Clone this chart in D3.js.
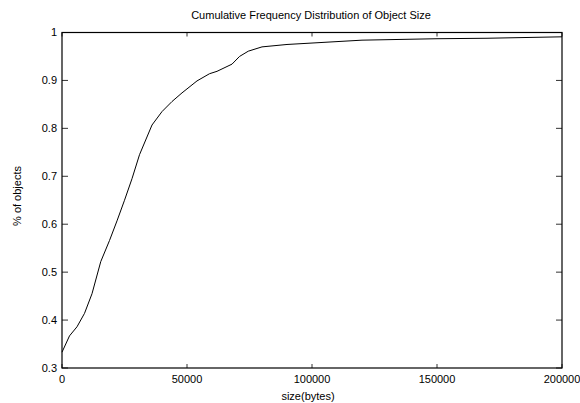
<!DOCTYPE html>
<html>
<head>
<meta charset="utf-8">
<script src="https://cdn.jsdelivr.net/npm/d3@7"></script>
<style>
  html, body { margin: 0; padding: 0; background: #fff; }
  svg { display: block; }
  text { font-family: "Liberation Sans", Arial, Helvetica, sans-serif; fill: #000; }
</style>
</head>
<body>
<svg id="chart" width="580" height="403"></svg>
<script>
// ---- data ----
const sizes = [0, 3000, 6000, 9000, 12000, 15500, 19000, 22000, 25000, 28000, 31000, 36000, 40000, 44000, 48000, 54000, 59000, 62000, 68000, 71000, 74500, 80000, 90000, 100000, 110000, 120000, 150000, 170000, 200000];
const fractions = [0.333, 0.367, 0.386, 0.414, 0.455, 0.522, 0.566, 0.607, 0.65, 0.695, 0.745, 0.807, 0.835, 0.856, 0.874, 0.899, 0.914, 0.919, 0.934, 0.950, 0.961, 0.970, 0.975, 0.978, 0.981, 0.984, 0.987, 0.988, 0.991];
const xTicks = [0, 50000, 100000, 150000, 200000];
const yTicks = [0.3, 0.4, 0.5, 0.6, 0.7, 0.8, 0.9, 1];
const titleText = "Cumulative Frequency Distribution of Object Size";
const xLabel = "size(bytes)";
const yLabel = "% of objects";

// ---- layout ----
const svg = d3.select("#chart");
const L = 62, R = 562, T = 32.5, B = 368;
const x = d3.scaleLinear().domain([0, 200000]).range([L, R]);
const y = d3.scaleLinear().domain([0.3, 1]).range([B, T]);
const fs = 11;

// ticks (inward, mirrored)
const g = svg.append("g");
const xt = 4, yt = 6;
xTicks.forEach(v => {
  g.append("line").attr("x1", x(v)).attr("x2", x(v)).attr("y1", B).attr("y2", B - xt).attr("stroke", "#333");
  g.append("line").attr("x1", x(v)).attr("x2", x(v)).attr("y1", T).attr("y2", T + xt).attr("stroke", "#333");
  g.append("text").attr("x", x(v)).attr("y", B + 15).attr("text-anchor", "middle").attr("font-size", fs).text(d3.format("d")(v));
});
yTicks.forEach(v => {
  g.append("line").attr("x1", L).attr("x2", L + yt).attr("y1", y(v)).attr("y2", y(v)).attr("stroke", "#333");
  g.append("line").attr("x1", R).attr("x2", R - yt).attr("y1", y(v)).attr("y2", y(v)).attr("stroke", "#333");
  g.append("text").attr("x", L - 5).attr("y", y(v)).attr("dy", "0.35em").attr("text-anchor", "end").attr("font-size", fs).text(d3.format("")(v));
});

// border
svg.append("rect").attr("x", L).attr("y", T).attr("width", R - L).attr("height", B - T)
  .attr("fill", "none").attr("stroke", "#000").attr("stroke-width", 1.2);

// curve
const data = sizes.map((s, i) => [s, fractions[i]]);
svg.append("path").datum(data)
  .attr("fill", "none").attr("stroke", "#000").attr("stroke-width", 1)
  .attr("d", d3.line().x(d => x(d[0])).y(d => y(d[1])));

// title and labels
svg.append("text").attr("x", 311).attr("y", 19).attr("text-anchor", "middle").attr("font-size", fs).text(titleText);
svg.append("text").attr("x", 308).attr("y", 400).attr("text-anchor", "middle").attr("font-size", fs).text(xLabel);
svg.append("text").attr("transform", "translate(21,196) rotate(-90)").attr("text-anchor", "middle").attr("font-size", fs).text(yLabel);
</script>
</body>
</html>
